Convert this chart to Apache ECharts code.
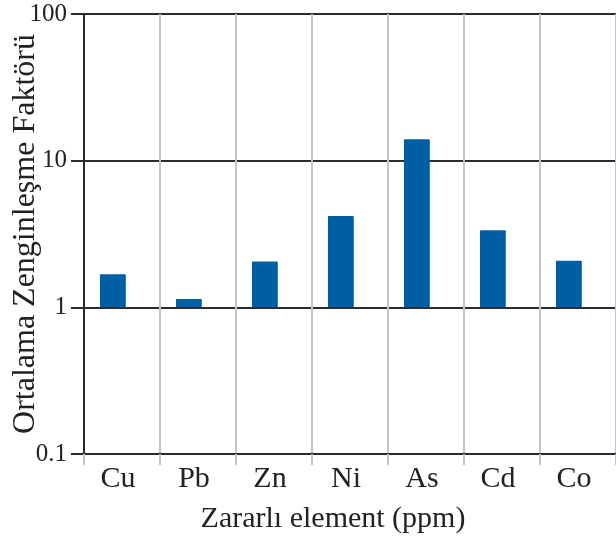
<!DOCTYPE html>
<html>
<head>
<meta charset="utf-8">
<script src="https://cdn.jsdelivr.net/npm/echarts@6/dist/echarts.min.js"></script>
<style>
html,body{margin:0;padding:0;background:#fff;}
#chart{width:616px;height:540px;}
</style>
</head>
<body>
<div id="chart"></div>
<script>
const categories = ['Cu', 'Pb', 'Zn', 'Ni', 'As', 'Cd', 'Co'];
const values = [1.68, 1.14, 2.05, 4.2, 14.0, 3.35, 2.08];
const baseValue = 1;
const yTickLabels = ['0.1', '1', '10', '100'];
const yTitle = 'Ortalama Zenginleşme Faktörü';
const xTitle = 'Zararlı element (ppm)';

const FONT = "'Liberation Serif', 'Times New Roman', serif";
const chart = echarts.init(document.getElementById('chart'), null, {renderer: 'canvas'});

chart.setOption({
  animation: false,
  backgroundColor: '#ffffff',
  grid: {left: 84, right: 0, top: 14, bottom: 86, containLabel: false, outerBoundsMode: 'none'},
  xAxis: {
    type: 'category',
    data: categories,
    boundaryGap: true,
    name: xTitle,
    nameLocation: 'middle',
    nameGap: 50,
    nameMoveOverlap: false,
    nameTextStyle: {fontFamily: FONT, fontSize: 30, color: '#222', padding: [0, 34, 0, 0]},
    axisLine: {show: true, lineStyle: {color: '#2b2b2b', width: 2}},
    axisTick: {show: true, length: 11, alignWithLabel: false, lineStyle: {color: '#c4c4cc', width: 2}},
    axisLabel: {fontFamily: FONT, fontSize: 30, color: '#222', margin: 10, padding: [0, 8, 0, 0]},
    splitLine: {show: true, interval: 0, lineStyle: {color: '#c4c4cc', width: 2}}
  },
  yAxis: {
    type: 'log',
    logBase: 10,
    min: 0.1,
    max: 100,
    name: yTitle,
    nameLocation: 'middle',
    nameGap: 42,
    nameMoveOverlap: false,
    nameTextStyle: {fontFamily: FONT, fontSize: 32, color: '#222'},
    axisLine: {show: true, lineStyle: {color: '#2b2b2b', width: 2}},
    axisTick: {show: true, length: 13, inside: false, lineStyle: {color: '#2b2b2b', width: 2}},
    axisLabel: {
      fontFamily: FONT, fontSize: 25, color: '#222', margin: 17,
      formatter: function (v) {
        const idx = Math.round(Math.log10(v)) + 1;
        return yTickLabels[idx] !== undefined ? yTickLabels[idx] : '';
      }
    },
    splitLine: {show: true, lineStyle: {color: '#2b2b2b', width: 2}},
    minorTick: {show: false},
    minorSplitLine: {show: false}
  },
  series: [{
    type: 'custom',
    data: values.map((v, i) => [i, v]),
    encode: {x: 0, y: 1},
    itemStyle: {color: '#005ea3'},
    renderItem: function (params, api) {
      const i = api.value(0);
      const v = api.value(1);
      const top = api.coord([i, v]);
      const base = api.coord([i, baseValue]);
      const band = api.size([1, 0])[0];
      const w = band * 0.34;
      const off = -band * 0.12;
      return {
        type: 'rect',
        shape: {x: top[0] - w / 2 + off, y: top[1], width: w, height: base[1] - top[1], r: 1},
        style: {fill: '#005ea3'}
      };
    }
  }]
});
</script>
</body>
</html>
